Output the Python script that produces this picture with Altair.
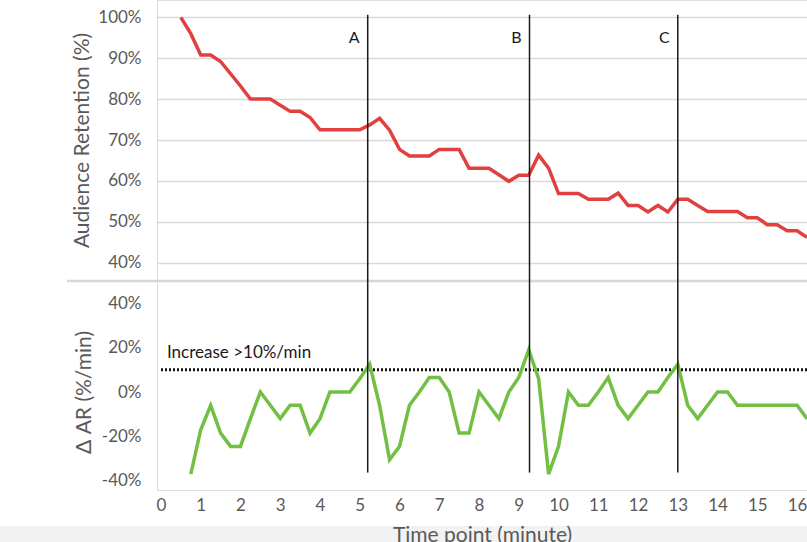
import altair as alt
import pandas as pd

# Audience retention (%) sampled every quarter minute
ret_t = [0.5, 0.75, 1.0, 1.25, 1.5, 1.75, 2.0, 2.25, 2.5, 2.75, 3.0, 3.25, 3.5, 3.75,
         4.0, 4.25, 4.5, 4.75, 5.0, 5.25, 5.5, 5.75, 6.0, 6.25, 6.5, 6.75, 7.0, 7.25,
         7.5, 7.75, 8.0, 8.25, 8.5, 8.75, 9.0, 9.25, 9.5, 9.75, 10.0, 10.25, 10.5,
         10.75, 11.0, 11.25, 11.5, 11.75, 12.0, 12.25, 12.5, 12.75, 13.0, 13.25, 13.5,
         13.75, 14.0, 14.25, 14.5, 14.75, 15.0, 15.25, 15.5, 15.75, 16.0, 16.25]
ret_v = [100, 96, 90.8, 90.8, 89.2, 86.2, 83.2, 80, 80, 80, 78.5, 77, 77, 75.5,
         72.5, 72.5, 72.5, 72.5, 72.5, 73.7, 75.3, 72.4, 67.7, 66.1, 66.1, 66.1, 67.7, 67.7,
         67.7, 63.1, 63.1, 63.1, 61.5, 59.9, 61.4, 61.4, 66.3, 63.1, 56.9, 56.9, 56.9,
         55.5, 55.5, 55.5, 57.0, 54.0, 54.0, 52.4, 54.0, 52.4, 55.5, 55.5, 54.0,
         52.5, 52.5, 52.5, 52.5, 51.0, 51.0, 49.3, 49.3, 47.8, 47.8, 46.2]

# Change in audience retention (%/min)
dar_t = [0.75, 1.0, 1.25, 1.5, 1.75, 2.0, 2.25, 2.5, 2.75, 3.0, 3.25, 3.5, 3.75,
         4.0, 4.25, 4.5, 4.75, 5.0, 5.25, 5.5, 5.75, 6.0, 6.25, 6.5, 6.75, 7.0, 7.25,
         7.5, 7.75, 8.0, 8.25, 8.5, 8.75, 9.0, 9.25, 9.5, 9.75, 10.0, 10.25, 10.5,
         10.75, 11.0, 11.25, 11.5, 11.75, 12.0, 12.25, 12.5, 12.75, 13.0, 13.25, 13.5,
         13.75, 14.0, 14.25, 14.5, 14.75, 15.0, 15.25, 15.5, 15.75, 16.0, 16.25]
dar_v = [-37, -17, -6, -18.5, -24.5, -24.5, -12, 0, -6, -12, -6, -6, -18.5,
         -12, 0, 0, 0, 6, 12.5, -6, -30.5, -24.5, -6, 0, 6.5, 6.5, 0,
         -18.5, -18.5, 0, -6, -12, 0, 6.5, 19, 6, -37, -24.5, 0, -6,
         -6, 0, 6.5, -6, -12, -6, 0, 0, 6.5, 12.5, -6, -12,
         -6, 0, 0, -6, -6, -6, -6, -6, -6, -6, -12]

# Marked moments
event_t = [5.2, 9.27, 13.0]
event_lab = ["A", "B", "C"]

# Threshold for a notable increase (%/min)
threshold = 10
threshold_label = "Increase >10%/min"

x_ticks = list(range(0, 17))
top_ticks = [40, 50, 60, 70, 80, 90, 100]
bottom_ticks = [-40, -20, 0, 20, 40]

FONT = "Lato"
GREY = "#595959"

ret_df = pd.DataFrame({"t": ret_t, "v": ret_v})
dar_df = pd.DataFrame({"t": dar_t, "v": dar_v})
ev_top = pd.DataFrame({"t": event_t, "lab": event_lab,
                       "v": [100.6] * 3, "v2": [35.5] * 3, "lv": [95] * 3})
ev_bot = pd.DataFrame({"t": event_t, "v": [50] * 3, "v2": [-36.3] * 3})
thr_df = pd.DataFrame({"t": [0.0], "t2": [16.25], "v": [threshold],
                       "lv": [17.5], "lab": [threshold_label]})
one = pd.DataFrame({"k": [0]})

x_scale = alt.Scale(domain=[-0.1, 16.25], nice=False, zero=False)
x_axis = alt.Axis(values=x_ticks, title="Time point (minute)", domain=False, ticks=False,
                  grid=False, labelFontSize=17, labelColor=GREY, labelPadding=7,
                  titleFontSize=21, titleColor=GREY, titleFontWeight="normal",
                  titlePadding=11, zindex=1, labelFont=FONT, titleFont=FONT)
X = alt.X("t:Q", scale=x_scale, axis=x_axis)

top_scale = alt.Scale(domain=[40, 100], range=[262.7, 17.3], nice=False, zero=False)
top_axis = alt.Axis(values=top_ticks, labelExpr="datum.value + '%'", orient="left",
                    title="Audience Retention (%)", titleX=-75, titleAngle=270,
                    titleBaseline="middle", titleFontSize=21, titleColor=GREY,
                    titleFontWeight="normal", labelFontSize=17, labelColor=GREY,
                    labelPadding=16, domain=False, ticks=False, gridColor="#d9d9d9",
                    gridWidth=1.6, labelFont=FONT, titleFont=FONT)
bot_scale = alt.Scale(domain=[-40, 40], range=[480.8, 303.2], nice=False, zero=False)
bot_axis = alt.Axis(values=bottom_ticks, labelExpr="datum.value + '%'", orient="left",
                    title="Δ AR (%/min)", titleX=-73, titleAngle=270,
                    titleBaseline="middle", titleFontSize=21, titleColor=GREY,
                    titleFontWeight="normal", labelFontSize=17, labelColor=GREY,
                    labelPadding=16, domain=False, ticks=False, gridColor="#d9d9d9",
                    gridWidth=1.6, labelFont=FONT, titleFont=FONT)

# Upper panel: retention curve
red = alt.Chart(ret_df).mark_line(color="#e0403f", strokeWidth=3.5).encode(
    x=X, y=alt.Y("v:Q", scale=top_scale, axis=top_axis))
separator = alt.Chart(one).mark_rule(color="#d6d6d6", strokeWidth=2.5).encode(
    x=alt.value(-90), x2=alt.value(650), y=alt.value(281))
ev_rules_top = alt.Chart(ev_top).mark_rule(color="#1a1a1a", strokeWidth=1.5).encode(
    x=X, y=alt.Y("v:Q", scale=top_scale, axis=top_axis), y2="v2:Q")
ev_labels = alt.Chart(ev_top).mark_text(align="right", baseline="middle", dx=-8,
                                        fontSize=16, color="#1a1a1a", font=FONT).encode(
    x=X, y=alt.Y("lv:Q", scale=top_scale, axis=top_axis), text="lab:N")
top = alt.layer(separator, red, ev_rules_top, ev_labels)

# Lower panel: rate of change
band = alt.Chart(one).mark_rect(color="#f2f2f2").encode(
    x=alt.value(-157), x2=alt.value(650), y=alt.value(526), y2=alt.value(560))
green = alt.Chart(dar_df).mark_line(color="#72bf44", strokeWidth=3.5).encode(
    x=X, y=alt.Y("v:Q", scale=bot_scale, axis=bot_axis))
thr_rule = alt.Chart(thr_df).mark_rule(color="#111111", strokeWidth=3,
                                       strokeDash=[2, 2]).encode(
    x=X, x2="t2:Q", y=alt.Y("v:Q", scale=bot_scale, axis=bot_axis))
thr_text = alt.Chart(thr_df).mark_text(align="left", baseline="middle", dx=6,
                                       fontSize=17, color="#1a1a1a", font=FONT).encode(
    x=X, y=alt.Y("lv:Q", scale=bot_scale, axis=bot_axis), text="lab:N")
ev_rules_bot = alt.Chart(ev_bot).mark_rule(color="#1a1a1a", strokeWidth=1.5).encode(
    x=X, y=alt.Y("v:Q", scale=bot_scale, axis=bot_axis), y2="v2:Q")
bottom = alt.layer(band, thr_rule, green, ev_rules_bot, thr_text)

chart = alt.layer(top, bottom).resolve_scale(y="independent").properties(
    width=650, height=490, autosize=alt.AutoSizeParams(type="none"),
    padding={"left": 157, "top": 0, "right": 0, "bottom": 52},
    background="white",
).configure_view(stroke=None).configure(font=FONT)

chart.save("out.html", embed_options={"renderer": "svg", "actions": False})
